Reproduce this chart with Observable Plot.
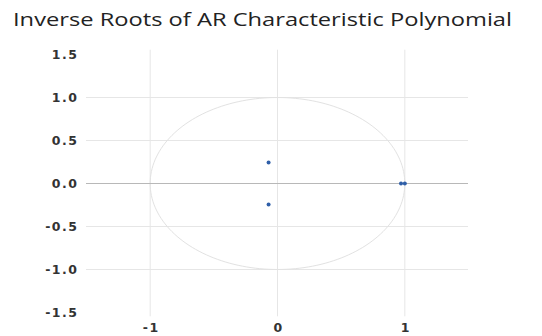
<!DOCTYPE html>
<html>
<head>
<meta charset="utf-8">
<script src="https://cdn.jsdelivr.net/npm/d3@7"></script>
<script src="https://cdn.jsdelivr.net/npm/@observablehq/plot@0.6"></script>
<style>
  html, body { margin: 0; padding: 0; background: #fff; }
  #title { height: 40px; padding-left: 13px; line-height: 38px; white-space: nowrap; overflow: visible; }
  #title span { display: inline-block; font-family: "Open Sans", sans-serif; font-size: 18.5px; color: #222; transform-origin: 0 50%; }
</style>
</head>
<body>
<div id="title"><span>Inverse Roots of AR Characteristic Polynomial</span></div>
<div id="chart"></div>
<script>
const rootRe = [-0.07, -0.07, 0.97, 1.0];
const rootIm = [0.245, -0.245, 0.0, 0.0];
const xTicks = [-1, 0, 1];
const yTicks = [1.5, 1.0, 0.5, 0.0, -0.5, -1.0, -1.5];
const yGrid = [1.0, 0.5, -0.5, -1.0];

const roots = rootRe.map((re, i) => ({re, im: rootIm[i]}));
// unit circle reference
const circle = d3.range(0, 361, 2).map(a => ({re: Math.cos(a * Math.PI / 180), im: Math.sin(a * Math.PI / 180)}));

const chart = Plot.plot({
  width: 542,
  height: 296,
  marginLeft: 86,
  marginRight: 74,
  marginTop: 14,
  marginBottom: 24,
  style: {fontFamily: "DejaVu Sans, sans-serif", fontSize: "12.5px", color: "#333", background: "#fff", letterSpacing: "1.5px"},
  x: {domain: [-1.5, 1.5]},
  y: {domain: [-1.5, 1.5]},
  marks: [
    Plot.ruleY(yGrid, {stroke: "#e6e6e6", strokeWidth: 1}),
    Plot.ruleX(xTicks, {y1: -1.55, y2: 1.55, stroke: "#e6e6e6", strokeWidth: 1}),
    Plot.line(circle, {x: "re", y: "im", stroke: "#e2e2e2", strokeWidth: 1}),
    Plot.ruleY([0], {stroke: "#b8b8b8", strokeWidth: 1.2}),
    Plot.dot(roots, {x: "re", y: "im", r: 2, fill: "#2f5fa8", stroke: null}),
    Plot.axisX(xTicks, {tickSize: 0, tickPadding: 11, tickFormat: d => String(d), label: null, fontWeight: "bold", fill: "#333", dx: 1}),
    Plot.axisY(yTicks, {tickSize: 0, tickPadding: 8, tickFormat: d => d.toFixed(1), label: null, fontWeight: "bold", fill: "#333"})
  ]
});
document.getElementById("chart").appendChild(chart);

// stretch the title horizontally to the reference's width
const span = document.querySelector("#title span");
const w = span.getBoundingClientRect().width;
span.style.transform = `scaleX(${499 / w})`;
</script>
</body>
</html>
